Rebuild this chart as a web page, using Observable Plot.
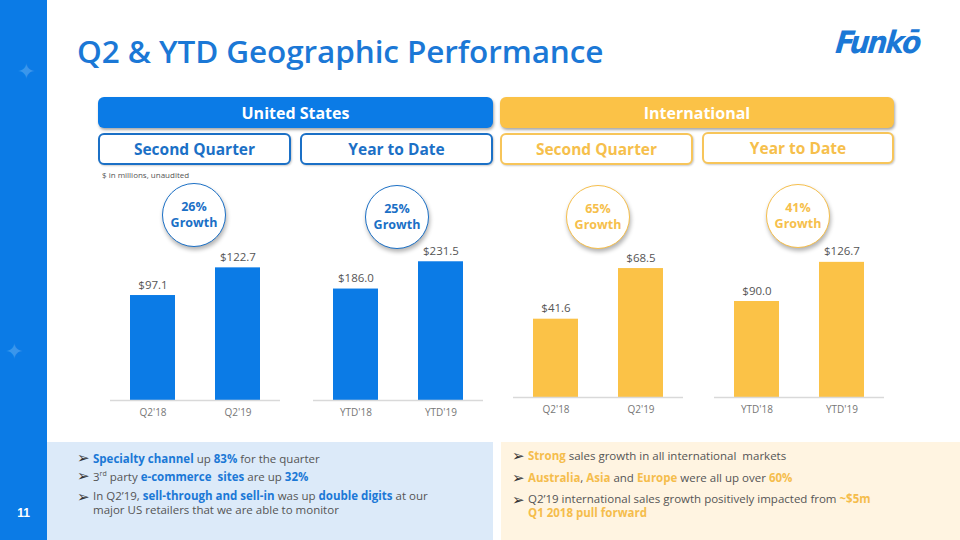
<!DOCTYPE html>
<html>
<head>
<meta charset="utf-8">
<script src="https://cdn.jsdelivr.net/npm/d3@7"></script>
<script src="https://cdn.jsdelivr.net/npm/@observablehq/plot@0.6"></script>
<style>
  html, body { margin: 0; padding: 0; }
  body { width: 960px; height: 540px; position: relative; overflow: hidden; background: #fff; font-family: "Open Sans", sans-serif; }
  .abs { position: absolute; }
  .sidebar { left: 0; top: 0; width: 47px; height: 540px; background: #0b7be6; }
  .star { color: #3a96ec; font-size: 22px; line-height: 1; }
  .pagenum { left: 0; width: 47px; top: 506px; text-align: center; color: #fff; font-weight: 700; font-size: 12px; font-family: "Liberation Sans", Arial, sans-serif; }
  .title { left: 77px; top: 29px; font-size: 31.5px; font-weight: 600; color: #1b78d6; letter-spacing: -0.1px; white-space: nowrap; }
  .logo { left: 836px; top: 24px; font-size: 31px; font-weight: 800; font-style: italic; color: #1b78d6; font-family: "DejaVu Sans Condensed", "DejaVu Sans", sans-serif; letter-spacing: -2px; transform: skewX(-6deg); }
  .pill { box-sizing: border-box; display: flex; align-items: center; justify-content: center; font-weight: 700; white-space: nowrap; border-radius: 6px; }
  .head { height: 31px; top: 97px; color: #fff; font-size: 16px; box-shadow: 1px 2px 3px rgba(0,0,0,0.35); }
  .sub { height: 32px; top: 133px; font-size: 15.5px; background: #fff; border: 2px solid; box-shadow: 1px 1px 2px rgba(0,0,0,0.2); }
  .blue { color: #1b70c6; border-color: #1b70c6; }
  .yellow { color: #f6bf4c; border-color: #f7c55a; }
  .note { left: 102px; top: 169px; font-size: 8px; color: #555; }
  .circle { box-sizing: border-box; width: 64px; height: 64px; border-radius: 50%; background: #fff; border: 1px solid; display: flex; flex-direction: column; align-items: center; justify-content: center; font-weight: 700; font-size: 12.5px; line-height: 16px; box-shadow: 1px 3px 4px rgba(0,0,0,0.3); }
  .panel { top: 442px; height: 98px; }
  .bullets { font-size: 11.5px; color: #555; line-height: 18px; }
  .bullets .row { display: flex; }
  .bullets .mark { width: 16px; font-family: "DejaVu Sans", sans-serif; font-size: 15px; line-height: 14px; color: #333; flex: none; margin-left: -1px; margin-top: 1px; }
  .bb { color: #1b78d6; font-weight: 700; }
  .yb { color: #f5bd4c; font-weight: 700; }
  sup { font-size: 7px; line-height: 0; }
  .chart { position: absolute; }
  .chart svg { overflow: visible; }
</style>
</head>
<body>
<div class="abs sidebar"></div>
<div class="abs star" style="left:17px;top:59px;">✦</div>
<div class="abs star" style="left:5px;top:339px;">✦</div>
<div class="abs pagenum">11</div>
<div class="abs title">Q2 &amp; YTD Geographic Performance</div>
<div class="abs logo">Funkō</div>

<div class="abs pill head" style="left:98px;width:395px;background:#0b7be6;">United States</div>
<div class="abs pill head" style="left:500px;width:394px;background:#fbc247;">International</div>
<div class="abs pill sub blue" style="left:98px;width:193px;">Second Quarter</div>
<div class="abs pill sub blue" style="left:300px;width:193px;">Year to Date</div>
<div class="abs pill sub yellow" style="left:500px;width:193px;">Second Quarter</div>
<div class="abs pill sub yellow" style="left:702px;width:192px;top:132px;">Year to Date</div>
<div class="abs note">$ in millions, unaudited</div>

<div id="circles"></div>
<div id="charts"></div>

<div class="abs panel" style="left:47px;width:446px;background:#dceaf9;"></div>
<div class="abs panel" style="left:501px;width:459px;background:#fff4e1;"></div>

<div class="abs bullets" style="left:78px;top:450px;width:400px;">
  <div class="row"><span class="mark">➢</span><span><span class="bb">Specialty channel</span> up <span class="bb">83%</span> for the quarter</span></div>
  <div class="row"><span class="mark">➢</span><span>3<sup>rd</sup> party <span class="bb">e-commerce&nbsp; sites</span> are up <span class="bb">32%</span></span></div>
  <div class="row" style="line-height:14px;margin-top:3px;"><span class="mark">➢</span><span>In Q2’19, <span class="bb">sell-through and sell-in</span> was up <span class="bb">double digits</span> at our<br>major US retailers that we are able to monitor</span></div>
</div>
<div class="abs bullets" style="left:513px;top:445px;width:420px;line-height:22px;">
  <div class="row"><span class="mark" style="margin-top:4px;">➢</span><span><span class="yb">Strong</span> sales growth in all international&nbsp; markets</span></div>
  <div class="row"><span class="mark" style="margin-top:4px;">➢</span><span><span class="yb">Australia</span>, <span class="yb">Asia</span> and <span class="yb">Europe</span> were all up over <span class="yb">60%</span></span></div>
  <div class="row" style="line-height:14px;margin-top:3px;"><span class="mark">➢</span><span>Q2’19 international sales growth positively impacted from <span class="yb">~$5m<br>Q1 2018 pull forward</span></span></div>
</div>

<script>
// ---- data ----
const quarterLabels = ["Q2'18", "Q2'19"];
const ytdLabels = ["YTD'18", "YTD'19"];
const usQuarterValues = [97.1, 122.7];
const usYtdValues = [186.0, 231.5];
const intlQuarterValues = [41.6, 68.5];
const intlYtdValues = [90.0, 126.7];
const growthLabels = ["26%", "25%", "65%", "41%"];

const BLUE = "#0b7be6";
const YELLOW = "#fbc247";

const panels = [
  {labels: quarterLabels, values: usQuarterValues, color: BLUE, yMax: 148, left: 110, top: 240, circle: [194, 215], growth: growthLabels[0], cls: "blue"},
  {labels: ytdLabels, values: usYtdValues, color: BLUE, yMax: 267, left: 313, top: 240, circle: [397, 217], growth: growthLabels[1], cls: "blue"},
  {labels: quarterLabels, values: intlQuarterValues, color: YELLOW, yMax: 85, left: 513, top: 237, circle: [598, 217], growth: growthLabels[2], cls: "yellow"},
  {labels: ytdLabels, values: intlYtdValues, color: YELLOW, yMax: 150, left: 714, top: 237, circle: [798, 216], growth: growthLabels[3], cls: "yellow"}
];

const chartsDiv = document.getElementById("charts");
const circlesDiv = document.getElementById("circles");

for (const p of panels) {
  const data = p.labels.map((l, i) => ({period: l, value: p.values[i]}));
  const chart = Plot.plot({
    width: 170,
    height: 190,
    marginTop: 0,
    marginBottom: 30,
    marginLeft: 0,
    marginRight: 0,
    style: {background: "transparent", fontFamily: "Open Sans, sans-serif", overflow: "visible"},
    x: {domain: p.labels, paddingInner: 0.47, paddingOuter: 0.23, label: null, tickSize: 0, tickPadding: 8},
    y: {domain: [0, p.yMax], axis: null},
    marks: [
      Plot.barY(data, {x: "period", y: "value", fill: p.color}),
      Plot.ruleY([0], {stroke: "#d9d9d9", strokeWidth: 1.5}),
      Plot.text(data, {x: "period", y: "value", text: d => "$" + d.value.toFixed(1), dy: -7, lineAnchor: "bottom", fill: "#555", fontSize: 11.5}),
      Plot.axisX({tickSize: 0, tickPadding: 8, fontSize: 10, color: "#777", label: null})
    ]
  });
  const wrap = document.createElement("div");
  wrap.className = "chart";
  wrap.style.left = p.left + "px";
  wrap.style.top = p.top + "px";
  wrap.appendChild(chart);
  chartsDiv.appendChild(wrap);

  const c = document.createElement("div");
  c.className = "abs circle " + p.cls;
  c.style.left = (p.circle[0] - 32) + "px";
  c.style.top = (p.circle[1] - 32) + "px";
  c.innerHTML = `<span>${p.growth}</span><span>Growth</span>`;
  circlesDiv.appendChild(c);
}
</script>
</body>
</html>
